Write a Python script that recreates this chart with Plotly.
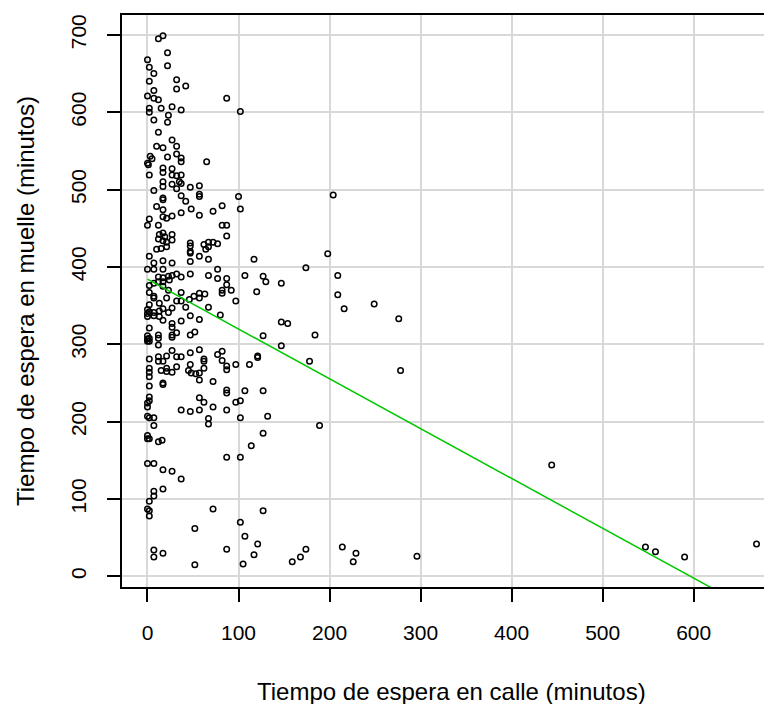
import plotly.graph_objects as go

# Waiting time in street (x) and at dock (y), minutes
calle = [17,12,22,0,2,7,22,2,32,42,32,7,0,7,12,87,2,2,15,27,37,102,7,23,22,12,27,32,10,17,3,5,22,32,37,37,65,0,1,17,17,27,2,27,32,37,35,37,17,27,47,57,17,7,32,17,37,57,57,100,
         17,10,17,37,48,42,57,72,82,102,0,2,12,17,21,27,82,87,87,17,13,19,27,12,17,21,27,47,47,62,67,72,77,64,67,10,15,21,47,47,2,57,67,7,17,27,47,0,7,17,77,117,32,37,12,17,23,27,47,67,77,87,107,12,17,24,2,7,17,23,87,82,92,120,37,2,57,63,82,7,7,21,32,37,46,51,57,97,13,42,2,67,0,0,0,2,7,7,13,17,23,27,13,17,37,47,57,80,27,27,
         2,0,0,0,2,2,12,12,12,27,27,32,47,52,2,12,12,17,21,27,32,37,47,57,62,62,77,82,82,2,2,2,15,21,21,27,32,47,45,48,53,57,62,57,72,87,87,97,112,121,2,17,17,87,87,107,2,2,0,0,57,62,72,37,47,57,87,97,102,0,2,7,7,67,67,102,0,0,2,12,16,114,87,102,
         0,7,17,27,37,7,17,7,2,0,2,2,72,52,102,107,121,7,7,17,87,117,105,52,
         204,198,174,127,130,147,209,209,216,249,147,154,127,184,147,121,178,127,132,189,
         127,127,174,168,159,214,229,226,444,296,547,558,590,669,276,278]
muelle = [699,695,677,668,658,650,660,640,642,634,630,628,621,618,616,618,605,600,605,607,603,601,590,596,587,574,564,556,556,554,543,540,542,546,541,536,536,534,532,528,522,527,519,519,518,519,510,508,510,507,503,505,504,499,501,489,492,494,491,491,
          487,478,474,470,475,485,467,472,479,475,454,462,454,465,463,466,454,454,440,444,442,439,442,436,434,432,435,431,427,429,432,432,430,423,426,423,424,426,420,418,414,414,410,405,408,405,407,397,397,397,397,410,391,387,387,386,388,389,391,389,385,385,389,381,381,383,376,379,375,370,377,370,370,368,367,367,366,365,366,362,360,360,356,356,358,362,360,356,353,348,351,348,345,340,336,342,341,337,343,346,341,347,336,331,330,337,332,338,327,322,
          321,311,307,304,308,304,312,308,299,312,309,315,312,316,281,284,278,278,285,292,284,284,289,293,281,278,287,291,279,269,264,258,266,269,265,264,271,274,266,263,262,263,269,254,252,272,267,274,274,285,246,250,248,241,237,240,232,227,224,219,231,225,219,215,213,215,215,225,227,207,205,205,195,204,197,205,182,178,178,174,176,169,154,154,
          146,146,138,136,126,110,113,104,97,87,85,78,87,62,70,52,42,34,25,30,35,28,16,15,
          493,417,399,388,381,379,389,364,346,352,329,327,311,312,298,283,278,240,207,195,
          185,85,35,25,19,38,30,19,144,26,38,32,25,42,333,266]

# Fitted line (muelle = a + b * calle)
fit_intercept = 384.2
fit_slope = -0.644

x_ticks = [0, 100, 200, 300, 400, 500, 600]
y_ticks = [0, 100, 200, 300, 400, 500, 600, 700]

fit_x = [min(calle), max(calle)]
fit_y = [fit_intercept + fit_slope * v for v in fit_x]

fig = go.Figure()
fig.add_trace(go.Scatter(
    x=calle, y=muelle, mode="markers",
    marker=dict(symbol="circle-open", size=5.5, color="black", line=dict(width=1.5, color="black")),
    showlegend=False, hoverinfo="x+y"))
fig.add_trace(go.Scatter(
    x=fit_x, y=fit_y, mode="lines",
    line=dict(color="#00C800", width=1.5), showlegend=False))

# page body has an 8px margin: figure is 8px smaller and margins shifted
W, H = 764, 696
L, T, B = 114, 7, 117
PW, PH = W - L, H - T - B

font_family = "Liberation Sans, Arial, sans-serif"
fig.update_layout(
    width=W, height=H,
    margin=dict(l=L, r=0, t=T, b=B, pad=0),
    plot_bgcolor="white", paper_bgcolor="white",
    font=dict(family=font_family, size=21, color="black"),
    xaxis=dict(range=[-28, 686], tickvals=x_ticks, ticktext=[str(v) for v in x_ticks],
               showgrid=True, gridcolor="#D8D8D8", gridwidth=1.5, zeroline=False,
               showline=True, linecolor="black", linewidth=2, mirror=True,
               ticks="outside", ticklen=13, tickwidth=1.5, tickcolor="black",
               ticklabelstandoff=13, tickfont=dict(size=21)),
    yaxis=dict(range=[-13.7, 725.7], tickvals=y_ticks, ticktext=[str(v) for v in y_ticks],
               showgrid=True, gridcolor="#D8D8D8", gridwidth=1.5, zeroline=False,
               showline=True, linecolor="black", linewidth=2, mirror=False,
               ticks="outside", ticklen=13, tickwidth=1.5, tickcolor="black",
               tickangle=-90, ticklabelstandoff=13, tickfont=dict(size=21)),
    annotations=[
        dict(text="Tiempo de espera en calle (minutos)", xref="paper", yref="paper",
             x=(451.7 - 122) / PW, y=-(691.7 - 587) / PH, xanchor="center", yanchor="middle",
             showarrow=False, font=dict(size=24)),
        dict(text="Tiempo de espera en muelle (minutos)", xref="paper", yref="paper",
             x=(25 - 122) / PW, y=0.5, xanchor="center", yanchor="middle", textangle=-90,
             showarrow=False, font=dict(size=24)),
    ],
)
fig.write_html("out.html")
